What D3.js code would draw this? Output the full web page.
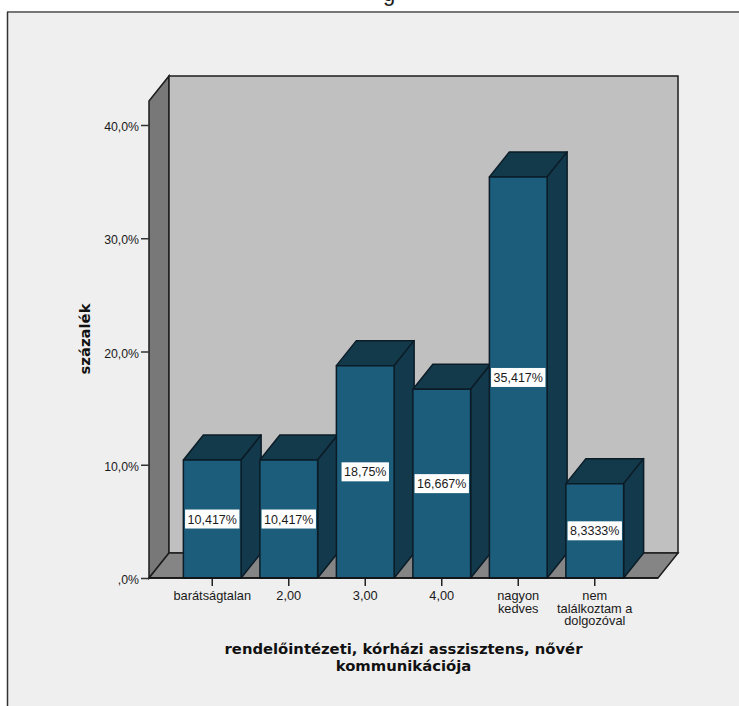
<!DOCTYPE html>
<html>
<head>
<meta charset="utf-8">
<script src="https://cdn.jsdelivr.net/npm/d3@7"></script>
<style>
    body { margin: 0; background: #fff; }
    svg { display: block; }
    text { font-family: "Liberation Sans", Arial, sans-serif; fill: #1a1a1a; }
    .axis-title { font-family: "DejaVu Sans", Verdana, sans-serif; font-weight: bold; fill: #111; }
</style>
</head>
<body>
<div id="visual"></div>
<script>
const categories = ["barátságtalan", "2,00", "3,00", "4,00", "nagyon kedves", "nem találkoztam a dolgozóval"];
const categoryLines = [["barátságtalan"], ["2,00"], ["3,00"], ["4,00"], ["nagyon", "kedves"], ["nem", "találkoztam a", "dolgozóval"]];
const percents = [10.417, 10.417, 18.75, 16.667, 35.417, 8.3333];
const percentLabels = ["10,417%", "10,417%", "18,75%", "16,667%", "35,417%", "8,3333%"];
const yTicks = [0, 10, 20, 30, 40];
const yTickLabels = [",0%", "10,0%", "20,0%", "30,0%", "40,0%"];
const xTitleLines = ["rendelőintézeti, kórházi asszisztens, nővér", "kommunikációja"];
const yTitle = "százalék";

const width = 739;
const height = 706;
const depthX = 20;
const depthY = 25;
const boxLeft = 149;
const boxRight = 658;
const boxFloor = 578;
const boxTop = 101;

const svg = d3.select("#visual").append("svg")
    .attr("width", width)
    .attr("height", height);

// panel background, cut off by the right and bottom of the page
svg.append("rect").attr("x", 7).attr("y", 12).attr("width", width - 7).attr("height", height - 12).attr("fill", "#efefef");
svg.append("line").attr("x1", 7).attr("x2", width).attr("y1", 12).attr("y2", 12).attr("stroke", "#777").attr("stroke-width", 2);
svg.append("line").attr("x1", 7.5).attr("x2", 7.5).attr("y1", 12).attr("y2", height).attr("stroke", "#333").attr("stroke-width", 1.5);

// tail of the title, mostly above the page
svg.append("text").attr("x", 389).attr("y", 0.5).attr("text-anchor", "middle").attr("font-size", 22).text("g");

const y = d3.scaleLinear().domain([0, 40]).range([boxFloor, 125]);
const x = d3.scaleBand().domain(categories).range([174, 633]).paddingInner(0.245).paddingOuter(0.1225);

const path = pts => "M" + pts.map(p => p.join(",")).join("L") + "Z";
const wallStroke = "#1c1c1c";

// box walls
svg.append("path")
    .attr("d", path([[boxLeft, boxTop], [boxLeft + depthX, boxTop - depthY], [boxLeft + depthX, boxFloor - depthY], [boxLeft, boxFloor]]))
    .attr("fill", "#787878").attr("stroke", wallStroke).attr("stroke-width", 1.5);
svg.append("path")
    .attr("d", path([[boxLeft + depthX, boxTop - depthY], [boxRight + depthX, boxTop - depthY], [boxRight + depthX, boxFloor - depthY], [boxLeft + depthX, boxFloor - depthY]]))
    .attr("fill", "#c0c0c0").attr("stroke", wallStroke).attr("stroke-width", 1.5);
svg.append("path")
    .attr("d", path([[boxLeft, boxFloor], [boxLeft + depthX, boxFloor - depthY], [boxRight + depthX, boxFloor - depthY], [boxRight, boxFloor]]))
    .attr("fill", "#858585").attr("stroke", wallStroke).attr("stroke-width", 1.5);

// 3d bars
const bars = svg.append("g")
    .selectAll("g")
    .data(percents)
    .enter()
    .append("g")
    .attr("stroke", "#0b1c27")
    .attr("stroke-width", 1.5)
    .attr("stroke-linejoin", "round");

bars.append("path")
    .attr("d", (d, i) => {
        const x0 = x(categories[i]), x1 = x0 + x.bandwidth();
        return path([[x0, y(d)], [x0 + depthX, y(d) - depthY], [x1 + depthX, y(d) - depthY], [x1, y(d)]]);
    })
    .attr("fill", "#133a4b");
bars.append("path")
    .attr("d", (d, i) => {
        const x1 = x(categories[i]) + x.bandwidth();
        return path([[x1, y(d)], [x1 + depthX, y(d) - depthY], [x1 + depthX, boxFloor - depthY], [x1, boxFloor]]);
    })
    .attr("fill", "#12394c");
bars.append("rect")
    .attr("x", (d, i) => x(categories[i]))
    .attr("y", d => y(d))
    .attr("width", x.bandwidth())
    .attr("height", d => boxFloor - y(d))
    .attr("fill", "#1b5d7a");

// value boxes
const labels = svg.append("g")
    .selectAll("g")
    .data(percents)
    .enter()
    .append("g")
    .attr("transform", (d, i) => "translate(" + (x(categories[i]) + x.bandwidth() / 2) + "," + y(d / 2) + ")");
labels.append("text")
    .attr("text-anchor", "middle")
    .attr("dy", "0.36em")
    .attr("font-size", 12.5)
    .text((d, i) => percentLabels[i]);
labels.insert("rect", "text")
    .each(function () {
        const box = this.parentNode.querySelector("text").getBBox();
        d3.select(this)
            .attr("x", box.x - 2.5)
            .attr("width", box.width + 5)
            .attr("y", -9.5)
            .attr("height", 19);
    })
    .attr("fill", "#fff");

// y axis
const yAxis = svg.append("g")
    .attr("transform", "translate(" + boxLeft + ",0)")
    .call(d3.axisLeft(y).tickValues(yTicks).tickSize(8).tickPadding(2).tickFormat((d, i) => yTickLabels[i]));
yAxis.select(".domain").remove();
yAxis.selectAll("line").attr("stroke", "#333").attr("stroke-width", 1.5);
yAxis.selectAll("text").attr("font-size", 12.3).attr("font-family", "Liberation Sans").attr("fill", "#1a1a1a").attr("dy", "0.45em");

// x axis
const xAxis = svg.append("g")
    .attr("transform", "translate(0," + boxFloor + ")")
    .call(d3.axisBottom(x).tickSize(8).tickFormat(""));
xAxis.select(".domain").remove();
xAxis.selectAll("line").attr("stroke", "#222").attr("stroke-width", 1.5);
xAxis.selectAll("text").remove();
svg.append("line").attr("x1", boxLeft).attr("x2", boxRight).attr("y1", boxFloor).attr("y2", boxFloor).attr("stroke", "#111").attr("stroke-width", 1.5);

svg.append("g")
    .selectAll("text")
    .data(categoryLines)
    .enter()
    .append("text")
    .attr("text-anchor", "middle")
    .attr("font-size", 12.8)
    .attr("y", 600)
    .attr("x", (d, i) => x(categories[i]) + x.bandwidth() / 2)
    .each(function (lines, i) {
        d3.select(this).selectAll("tspan")
            .data(lines)
            .enter()
            .append("tspan")
            .attr("x", x(categories[i]) + x.bandwidth() / 2)
            .attr("dy", (l, j) => j ? 12.5 : 0)
            .text(l => l);
    });

// axis titles
svg.selectAll(".x-title")
    .data(xTitleLines)
    .enter()
    .append("text")
    .attr("class", "axis-title")
    .attr("text-anchor", "middle")
    .attr("font-size", 14.8)
    .attr("x", 403.5)
    .attr("y", (d, i) => 654 + i * 16.5)
    .text(d => d);
svg.append("text")
    .attr("class", "axis-title")
    .attr("text-anchor", "middle")
    .attr("font-size", 14.8)
    .attr("transform", "translate(90,339) rotate(-90)")
    .text(yTitle);
</script>
</body>
</html>
